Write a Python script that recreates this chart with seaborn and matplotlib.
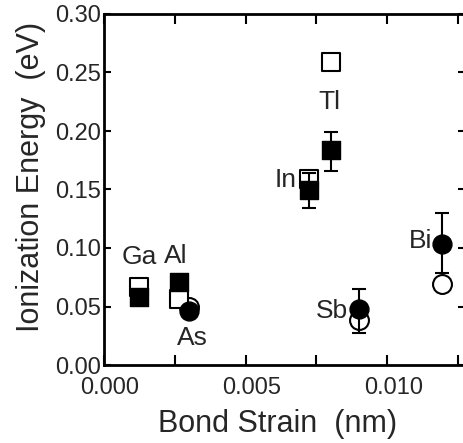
import numpy as np
import pandas as pd
import matplotlib
matplotlib.use('Agg')
import matplotlib.pyplot as plt
from matplotlib.ticker import MultipleLocator
from matplotlib.transforms import ScaledTranslation
import seaborn as sns

# Values
elements = ['Ga', 'Al', 'As', 'In', 'Tl', 'Sb', 'Bi']
shapes = ['s', 's', 'o', 's', 's', 'o', 'o']
strain = [0.00124, 0.00265, 0.00300, 0.00724, 0.00802, 0.00901, 0.01194]
energy_filled = [0.058, 0.071, 0.046, 0.150, 0.184, 0.048, 0.103]
energy_open = [0.067, 0.056, 0.0495, 0.159, 0.259, 0.0385, 0.069]
err_low = [0.0, 0.0, 0.0, 0.016, 0.018, 0.021, 0.024]
err_high = [0.0, 0.0, 0.0, 0.014, 0.015, 0.017, 0.027]

# label anchor (x, y, ha) for each element
label_x = [0.00125, 0.00254, 0.00311, 0.00682, 0.00795, 0.00862, 0.01159]
label_y = [0.092, 0.093, 0.023, 0.158, 0.225, 0.046, 0.106]
label_ha = ['center', 'center', 'center', 'right', 'center', 'right', 'right']

df = pd.DataFrame({'element': elements, 'shape': shapes, 'strain': strain,
                   'filled': energy_filled, 'open': energy_open,
                   'lo': err_low, 'hi': err_high})

sns.set_style('ticks')
plt.rcParams['font.family'] = ['Liberation Sans', 'DejaVu Sans']

fig = plt.figure(figsize=(4.64, 4.43), dpi=100)
ax = fig.add_axes([104 / 464, 78 / 443, 361 / 464, 351 / 443])

size_map = {'s': 150, 'o': 185}

# open symbols first
for shp, sub in df.groupby('shape'):
    sns.scatterplot(data=sub, x='strain', y='open', marker=shp,
                    s=size_map[shp], facecolor='white', edgecolor='black',
                    linewidth=1.5, ax=ax, zorder=3)

# error bars on the filled values
eb = df[(df['lo'] > 0) | (df['hi'] > 0)]
ax.errorbar(eb['strain'], eb['filled'], yerr=[eb['lo'], eb['hi']],
            fmt='none', ecolor='black', elinewidth=1.5, capsize=5,
            capthick=1.5, zorder=4)

# filled symbols on top
for shp, sub in df.groupby('shape'):
    sns.scatterplot(data=sub, x='strain', y='filled', marker=shp,
                    s=size_map[shp], color='black', edgecolor='black',
                    linewidth=1.0, ax=ax, zorder=5)

for name, lx, ly, ha in zip(elements, label_x, label_y, label_ha):
    ax.text(lx, ly, name, ha=ha, va='center', fontsize=19, zorder=6)

ax.set_xlim(0, 0.01275)
ax.set_ylim(0, 0.30)
ax.xaxis.set_major_locator(MultipleLocator(0.005))
ax.xaxis.set_minor_locator(MultipleLocator(0.0025))
ax.yaxis.set_major_locator(MultipleLocator(0.05))
ax.xaxis.set_major_formatter(plt.FormatStrFormatter('%.3f'))
ax.yaxis.set_major_formatter(plt.FormatStrFormatter('%.2f'))

ax.tick_params(which='both', direction='in', top=True, right=True,
               length=7, width=1.5, color='black')
ax.tick_params(axis='x', which='major', labelsize=17, pad=9)
ax.tick_params(axis='y', which='major', labelsize=17, pad=2, length=5)
for sp in ax.spines.values():
    sp.set_linewidth(2)
    sp.set_color('black')

# x tick labels sit a little right of their ticks in the reference
shift = ScaledTranslation(6 / 100, 0, fig.dpi_scale_trans)
for lab in ax.get_xticklabels():
    lab.set_transform(lab.get_transform() + shift)

ax.set_xlabel('Bond Strain  (nm)', fontsize=22)
ax.set_ylabel('Ionization Energy  (eV)', fontsize=22)
ax.xaxis.set_label_coords(0.481, -0.168)
ax.yaxis.set_label_coords(-0.202, 0.537)
ax.yaxis.label.set_va('center')
ax.xaxis.label.set_va('center')

fig.savefig('out.png', dpi=100)
